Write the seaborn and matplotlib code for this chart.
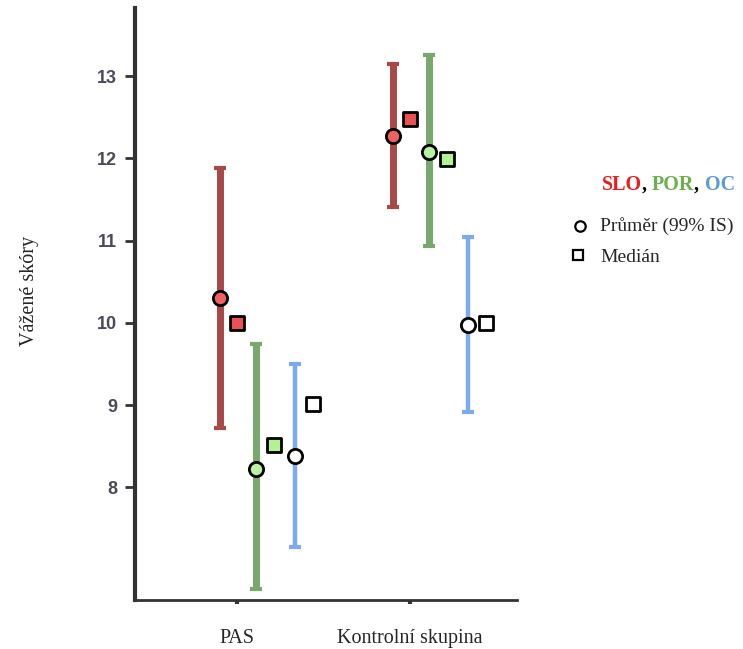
import matplotlib
matplotlib.use("Agg")
import matplotlib.pyplot as plt
import seaborn as sns
import pandas as pd
import numpy as np

# ---- data ----
groups = ["PAS", "Kontrolní skupina"]
series = ["SLO", "POR", "OC"]
mean_SLO = [10.30, 12.27]
ci_lo_SLO = [8.72, 11.41]
ci_hi_SLO = [11.89, 13.15]
median_SLO = [10.0, 12.48]

mean_POR = [8.22, 12.08]
ci_lo_POR = [6.76, 10.94]
ci_hi_POR = [9.74, 13.26]
median_POR = [8.52, 11.99]

mean_OC = [8.38, 9.98]
ci_lo_OC = [7.28, 8.92]
ci_hi_OC = [9.50, 11.05]
median_OC = [9.01, 10.0]

yticks = [8, 9, 10, 11, 12, 13]

# ---- styling ----
sns.set_theme(style="white")
plt.rcParams['font.family'] = ['Liberation Serif', 'DejaVu Serif']

bar_colors = {"SLO": "#a84848", "POR": "#78a86c", "OC": "#7aaaf0"}
fill_mean = {"SLO": "#f06262", "POR": "#b8f2a2", "OC": "#ffffff"}
fill_med = {"SLO": "#e85252", "POR": "#b2f294", "OC": "#ffffff"}
bar_lw = {"SLO": 5.0, "POR": 5.0, "OC": 3.2}
mean_off = {"SLO": -0.10, "POR": 0.11, "OC": 0.335}
med_off = {"SLO": 0.0, "POR": 0.215, "OC": 0.44}

data = {
    "SLO": (mean_SLO, ci_lo_SLO, ci_hi_SLO, median_SLO),
    "POR": (mean_POR, ci_lo_POR, ci_hi_POR, median_POR),
    "OC": (mean_OC, ci_lo_OC, ci_hi_OC, median_OC),
}

rows = []
for s in series:
    m, lo, hi, md = data[s]
    for i, g in enumerate(groups):
        rows.append(dict(series=s, group=g, gi=i, mean=m[i], lo=lo[i], hi=hi[i], median=md[i]))
df = pd.DataFrame(rows)
df["xm"] = df["gi"] + df["series"].map(mean_off)
df["xd"] = df["gi"] + df["series"].map(med_off)

fig = plt.figure(figsize=(7.43, 6.49), dpi=100)
ax = fig.add_axes([135/743, 49/649, 382/743, 592/649])

for s in series:
    d = df[df.series == s]
    ax.errorbar(d["xm"], d["mean"], yerr=[d["mean"] - d["lo"], d["hi"] - d["mean"]],
                fmt="none", ecolor=bar_colors[s], elinewidth=bar_lw[s], capsize=4.5,
                capthick=3, zorder=2)
    sns.scatterplot(data=d, x="xm", y="mean", ax=ax, marker="o", s=105,
                    color=fill_mean[s], edgecolor="black", linewidth=2.0, zorder=3, legend=False)
    sns.scatterplot(data=d, x="xd", y="median", ax=ax, marker="s", s=115,
                    color=fill_med[s], edgecolor="black", linewidth=2.0, zorder=3, legend=False)

ax.set_xlim(-0.59, 1.62)
ax.set_ylim(6.63, 13.83)
ax.set_xticks([0, 1])
ax.set_xticklabels(groups, fontsize=14.5, family=['Liberation Serif'])
ax.set_yticks(yticks)
ax.set_yticklabels([str(t) for t in yticks], fontsize=13, fontweight="bold",
                   color="#4a4a5a", family=['Liberation Sans'])
ax.set_xlabel("")
ax.set_ylabel("")
fig.text(30/743, 1 - 291/649, "Vážené skóry", fontsize=14.5, rotation=90,
         ha="center", va="center", family=['Liberation Serif'])

for sp in ["top", "right"]:
    ax.spines[sp].set_visible(False)
ax.spines["left"].set_linewidth(3)
ax.spines["left"].set_color("#333333")
ax.spines["bottom"].set_linewidth(2)
ax.spines["bottom"].set_color("#333333")
ax.tick_params(axis="y", direction="out", length=7, width=2, color="#333333", left=True, pad=6)
ax.tick_params(axis="x", direction="out", length=3, width=3, color="#333333", bottom=True, pad=18)

# legend (text drawn in figure coords)
fx = lambda px: px / 743
fy = lambda py: 1 - py / 649
renderer = fig.canvas.get_renderer()
x = 602
for txt, col in [("SLO", "#ee1c1c"), (", ", "black"), ("POR", "#6ab04c"), (", ", "black"), ("OC", "#5b9bd5")]:
    t = fig.text(fx(x), fy(185), txt, color=col, fontsize=14.5, fontweight="bold",
                 ha="left", va="center", family=['Liberation Serif'])
    bb = t.get_window_extent(renderer=renderer)
    x += bb.width

fig.text(fx(600), fy(226), "Průměr (99% IS)", fontsize=14, ha="left", va="center",
         family=['Liberation Serif'])
fig.text(fx(600), fy(257), "Medián", fontsize=14, ha="left", va="center",
         family=['Liberation Serif'])
lax = fig.add_axes([0, 0, 1, 1], facecolor="none")
lax.set_xlim(0, 743)
lax.set_ylim(649, 0)
lax.axis("off")
lax.plot([580], [226], marker="o", ms=7.5, mfc="white", mec="black", mew=1.6)
lax.plot([578], [255], marker="s", ms=7.5, mfc="white", mec="black", mew=1.6)

fig.savefig("out.png", dpi=100)
